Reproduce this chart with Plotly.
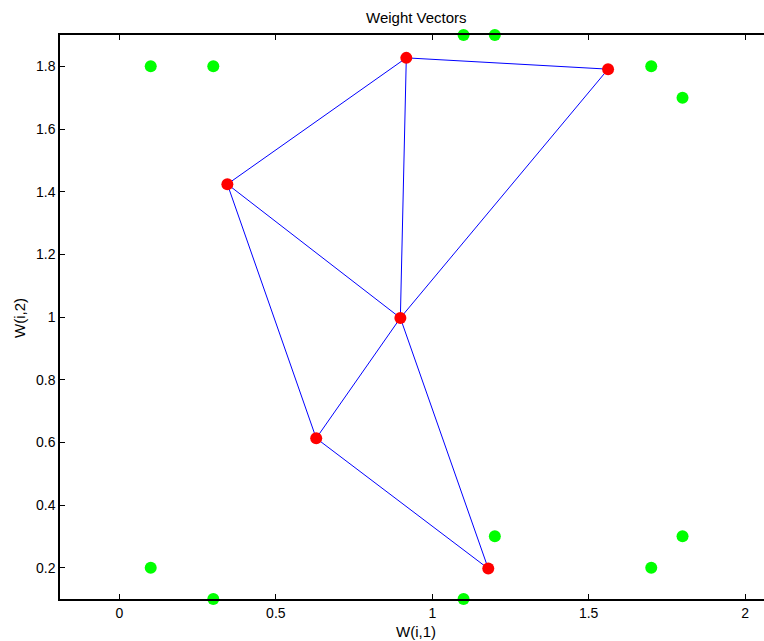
import plotly.graph_objects as go

# Neuron weight vectors (red)
w_x = [0.917, 1.562, 0.345, 0.898, 0.629, 1.179]
w_y = [1.827, 1.791, 1.424, 0.997, 0.613, 0.197]

# Neighbour links between neurons (index pairs)
links = [(2, 0), (0, 1), (0, 3), (1, 3), (2, 3), (2, 4), (4, 3), (3, 5), (4, 5)]

# Input data points (green)
p_x = [0.1, 0.3, 1.1, 1.2, 1.7, 1.8, 1.2, 1.8, 0.1, 1.7, 0.3, 1.1]
p_y = [1.8, 1.8, 1.9, 1.9, 1.8, 1.7, 0.3, 0.3, 0.2, 0.2, 0.1, 0.1]

x_ticks = [0, 0.5, 1, 1.5, 2]
y_ticks = [0.2, 0.4, 0.6, 0.8, 1, 1.2, 1.4, 1.6, 1.8]

lx, ly = [], []
for a, b in links:
    lx += [w_x[a], w_x[b], None]
    ly += [w_y[a], w_y[b], None]

font = "Liberation Sans, Arial, Helvetica, sans-serif"

# MATLAB axes extend slightly past the right edge of the 764 px window
W, H = 772, 641
ML, MR, MT, MB = 60, 0, 35, 42
pw, ph = W - ML - MR, H - MT - MB


def px_x(p):
    return (p - ML) / pw


def px_y(p):
    return (H - MB - p) / ph


fig = go.Figure()
fig.add_trace(go.Scatter(x=p_x, y=p_y, mode="markers",
                         marker=dict(color="#00ff00", size=12, line=dict(width=0)),
                         cliponaxis=False, showlegend=False))
fig.add_trace(go.Scatter(x=lx, y=ly, mode="lines",
                         line=dict(color="#0000ff", width=1),
                         showlegend=False))
fig.add_trace(go.Scatter(x=w_x, y=w_y, mode="markers",
                         marker=dict(color="#ff0000", size=12, line=dict(width=0)),
                         cliponaxis=False, showlegend=False))

fig.update_layout(
    width=W, height=H,
    margin=dict(l=ML, r=MR, t=MT, b=MB),
    paper_bgcolor="white", plot_bgcolor="white",
    font=dict(family=font, size=14, color="black"),
    xaxis=dict(range=[-0.19, 2.086], tickvals=x_ticks,
               ticktext=[str(v) for v in x_ticks],
               showgrid=False, zeroline=False, showline=True, linecolor="black",
               linewidth=1.5, mirror="ticks", ticks="inside", ticklen=5,
               tickcolor="black", tickfont=dict(size=14)),
    yaxis=dict(range=[0.1, 1.9], tickvals=y_ticks,
               ticktext=[f"{v:g}" for v in y_ticks],
               showgrid=False, zeroline=False, showline=True, linecolor="black",
               linewidth=1.5, mirror=False, ticks="inside", ticklen=5,
               tickcolor="black", tickfont=dict(size=14)),
    annotations=[
        dict(text="Weight Vectors", xref="paper", yref="paper",
             x=px_x(416), y=px_y(17.5), xanchor="center", yanchor="middle",
             showarrow=False, font=dict(size=15, family=font)),
        dict(text="W(i,1)", xref="paper", yref="paper",
             x=px_x(416), y=px_y(631), xanchor="center", yanchor="middle",
             showarrow=False, font=dict(size=15, family=font)),
        dict(text="W(i,2)", xref="paper", yref="paper", textangle=-90,
             x=px_x(19), y=px_y(318), xanchor="center", yanchor="middle",
             showarrow=False, font=dict(size=15, family=font)),
    ],
)

fig.write_html(
    "out.html",
    config={"displayModeBar": False},
    post_script="document.body.style.margin='0';document.body.style.overflow='hidden';",
)
